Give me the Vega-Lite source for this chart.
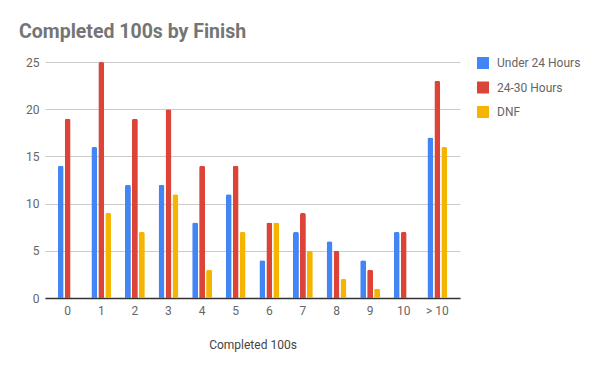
{
  "$schema": "https://vega.github.io/schema/vega-lite/v6.json",
  "width": 415,
  "height": 236,
  "autosize": {"type": "none"},
  "padding": {"left": 45, "top": 62, "right": 140, "bottom": 73},
  "background": "white",
  "title": {
    "text": "Completed 100s by Finish",
    "anchor": "start",
    "frame": "group",
    "dx": -26,
    "offset": 14,
    "font": "Roboto",
    "fontSize": 19.5,
    "fontWeight": "bold",
    "color": "#757575"
  },
  "config": {
    "view": {"stroke": null},
    "font": "Roboto"
  },
  "data": {
    "values": [
      {"completed": "0", "finish": "Under 24 Hours", "count": 14},
      {"completed": "0", "finish": "24-30 Hours", "count": 19},
      {"completed": "0", "finish": "DNF", "count": 0},
      {"completed": "1", "finish": "Under 24 Hours", "count": 16},
      {"completed": "1", "finish": "24-30 Hours", "count": 25},
      {"completed": "1", "finish": "DNF", "count": 9},
      {"completed": "2", "finish": "Under 24 Hours", "count": 12},
      {"completed": "2", "finish": "24-30 Hours", "count": 19},
      {"completed": "2", "finish": "DNF", "count": 7},
      {"completed": "3", "finish": "Under 24 Hours", "count": 12},
      {"completed": "3", "finish": "24-30 Hours", "count": 20},
      {"completed": "3", "finish": "DNF", "count": 11},
      {"completed": "4", "finish": "Under 24 Hours", "count": 8},
      {"completed": "4", "finish": "24-30 Hours", "count": 14},
      {"completed": "4", "finish": "DNF", "count": 3},
      {"completed": "5", "finish": "Under 24 Hours", "count": 11},
      {"completed": "5", "finish": "24-30 Hours", "count": 14},
      {"completed": "5", "finish": "DNF", "count": 7},
      {"completed": "6", "finish": "Under 24 Hours", "count": 4},
      {"completed": "6", "finish": "24-30 Hours", "count": 8},
      {"completed": "6", "finish": "DNF", "count": 8},
      {"completed": "7", "finish": "Under 24 Hours", "count": 7},
      {"completed": "7", "finish": "24-30 Hours", "count": 9},
      {"completed": "7", "finish": "DNF", "count": 5},
      {"completed": "8", "finish": "Under 24 Hours", "count": 6},
      {"completed": "8", "finish": "24-30 Hours", "count": 5},
      {"completed": "8", "finish": "DNF", "count": 2},
      {"completed": "9", "finish": "Under 24 Hours", "count": 4},
      {"completed": "9", "finish": "24-30 Hours", "count": 3},
      {"completed": "9", "finish": "DNF", "count": 1},
      {"completed": "10", "finish": "Under 24 Hours", "count": 7},
      {"completed": "10", "finish": "24-30 Hours", "count": 7},
      {"completed": "10", "finish": "DNF", "count": 0},
      {"completed": "> 10", "finish": "Under 24 Hours", "count": 17},
      {"completed": "> 10", "finish": "24-30 Hours", "count": 23},
      {"completed": "> 10", "finish": "DNF", "count": 16}
    ]
  },
  "mark": {"type": "bar", "cornerRadiusTopLeft": 2, "cornerRadiusTopRight": 2},
  "encoding": {
    "x": {
      "field": "completed",
      "type": "nominal",
      "sort": ["0", "1", "2", "3", "4", "5", "6", "7", "8", "9", "10", "> 10"],
      "scale": {"paddingInner": 0.41, "paddingOuter": 0.38},
      "axis": {
        "title": "Completed 100s",
        "titleFont": "Roboto",
        "titleFontSize": 12,
        "titleFontWeight": "normal",
        "titleColor": "#444444",
        "titlePadding": 23,
        "labelAngle": 0,
        "labelFont": "Roboto",
        "labelFontSize": 12,
        "labelColor": "#666666",
        "labelPadding": 7,
        "ticks": false,
        "domainColor": "#333333",
        "domainWidth": 1.5,
        "grid": false
      }
    },
    "xOffset": {
      "field": "finish",
      "type": "nominal",
      "sort": ["Under 24 Hours", "24-30 Hours", "DNF"],
      "scale": {"paddingInner": 0.15}
    },
    "y": {
      "field": "count",
      "type": "quantitative",
      "scale": {"domain": [0, 25]},
      "axis": {
        "title": null,
        "values": [0, 5, 10, 15, 20, 25],
        "labelFont": "Roboto",
        "labelFontSize": 12,
        "labelColor": "#666666",
        "labelPadding": 6,
        "ticks": false,
        "domain": false,
        "gridColor": "#cccccc",
        "gridWidth": 1
      }
    },
    "color": {
      "field": "finish",
      "type": "nominal",
      "sort": ["Under 24 Hours", "24-30 Hours", "DNF"],
      "scale": {
        "domain": ["Under 24 Hours", "24-30 Hours", "DNF"],
        "range": ["#4285F4", "#DB4437", "#F4B400"]
      },
      "legend": {
        "title": null,
        "orient": "none",
        "legendX": 432,
        "legendY": -5,
        "symbolType": "square",
        "symbolSize": 144,
        "symbolStrokeWidth": 0,
        "symbolOpacity": 1,
        "labelFont": "Roboto",
        "labelFontSize": 12,
        "labelColor": "#666666",
        "labelOffset": 8,
        "rowPadding": 12.5
      }
    }
  }
}
